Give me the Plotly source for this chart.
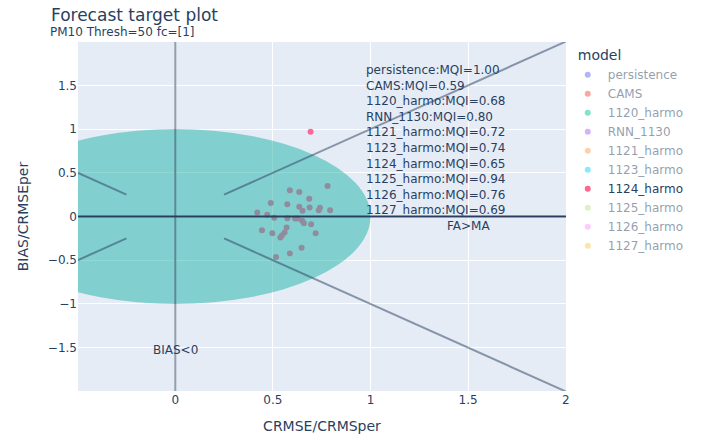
import plotly.graph_objects as go

# Models shown in the legend, in plotting order, with their MQI scores
models = ["persistence", "CAMS", "1120_harmo", "RNN_1130", "1121_harmo",
          "1123_harmo", "1124_harmo", "1125_harmo", "1126_harmo", "1127_harmo"]
mqi = [1.00, 0.59, 0.68, 0.80, 0.72, 0.74, 0.65, 0.94, 0.76, 0.69]

# Station points (CRMSE/CRMSper, BIAS/CRMSEper) for the model that is switched on
crmse_1124 = [0.780, 0.587, 0.635, 0.686, 0.489, 0.574, 0.635, 0.688, 0.652, 0.741,
              0.735, 0.793, 0.420, 0.471, 0.507, 0.574, 0.614, 0.625, 0.650, 0.659,
              0.696, 0.570, 0.444, 0.497, 0.560, 0.546, 0.538, 0.719, 0.647, 0.587,
              0.516, 0.693]
bias_1124 = [0.348, 0.299, 0.279, 0.203, 0.153, 0.141, 0.111, 0.103, 0.066, 0.100,
             0.072, 0.072, 0.046, 0.020, -0.015, -0.020, -0.023, -0.023, -0.049, -0.077,
             -0.089, -0.126, -0.157, -0.192, -0.184, -0.218, -0.241, -0.192, -0.356, -0.422,
             -0.463, 0.969]

points = {"1124_harmo": (crmse_1124, bias_1124)}

palette = ["#636EFA", "#EF553B", "#00CC96", "#AB63FA", "#FFA15A",
           "#19D3F3", "#FF6692", "#B6E880", "#FF97FF", "#FECB52"]

fig = go.Figure()
for i, name in enumerate(models):
    # toggled-off models keep a legend entry but carry no drawn points
    xs, ys = points.get(name, ([None], [None]))
    fig.add_trace(go.Scatter(
        x=xs, y=ys, mode="markers", name=name,
        marker=dict(color=palette[i], size=6), showlegend=True,
        visible=True if name in points else "legendonly",
    ))

# Target circle and guide lines
fig.add_shape(type="circle", xref="x", yref="y", x0=-1, y0=-1, x1=1, y1=1,
              fillcolor="lightseagreen", opacity=0.5, line=dict(width=0))
guide = dict(color="#2a3f5f", width=2)
for (x0, y0, x1, y1) in [(0.25, 0.25, 2, 2), (0.25, -0.25, 2, -2),
                         (-0.5, 0.5, -0.25, 0.25), (-0.5, -0.5, -0.25, -0.25)]:
    fig.add_shape(type="line", xref="x", yref="y", x0=x0, y0=y0, x1=x1, y1=y1,
                  line=guide, opacity=0.5)
fig.add_shape(type="line", xref="x", yref="paper", x0=0, x1=0, y0=0, y1=1,
              line=guide, opacity=0.5)
fig.add_shape(type="line", xref="paper", yref="y", x0=0, x1=1, y0=0, y1=0,
              line=guide)

mqi_text = "<br>".join(f"{m}:MQI={v:.2f}" for m, v in zip(models, mqi))
fig.add_annotation(x=0.965, y=0.87, xref="x", yref="y", text=mqi_text,
                   showarrow=False, align="left", xanchor="left", yanchor="middle",
                   font=dict(size=12))
fig.add_annotation(x=1.5, y=-0.11, text="FA>MA", showarrow=False, font=dict(size=12))
fig.add_annotation(x=0, y=-1.53, text="BIAS<0", showarrow=False, font=dict(size=12))

# Subtitle line under the main title
fig.add_annotation(xref="paper", yref="paper", x=-0.0615, y=1.0287,
                   xanchor="left", yanchor="middle", showarrow=False,
                   text="PM10 Thresh=50 fc=[1]", font=dict(size=12))

fig.update_layout(
    width=710, height=434,
    font=dict(family="DejaVu Sans"),
    margin=dict(l=78, r=144, t=42, b=43),
    title=dict(text="Forecast target plot", font=dict(size=17),
               x=0.0718, xanchor="left", yref="container", y=0.9654, yanchor="middle"),
    showlegend=True,
    legend=dict(title=dict(text="model"), indentation=-8, tracegroupgap=0),
    xaxis=dict(title=dict(text="CRMSE/CRMSper"), range=[-0.498, 2.001], automargin=False),
    yaxis=dict(title=dict(text="BIAS/CRMSEper"), range=[-1.995, 1.995], automargin=False),
)

fig.write_html("out.html")
